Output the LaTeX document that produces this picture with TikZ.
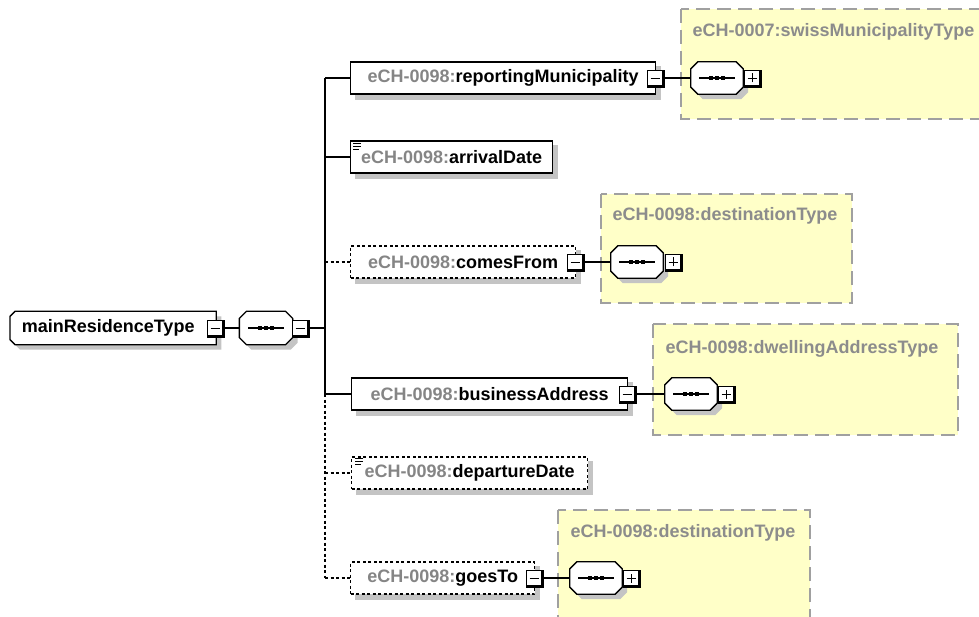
\documentclass[tikz,border=0pt]{standalone}
\usepackage{fontspec}
\setmainfont{Liberation Sans}
\definecolor{pfx}{HTML}{858585}
\definecolor{ttlgray}{HTML}{8C8C8C}
\definecolor{ylw}{HTML}{FFFFC8}
\definecolor{ybd}{HTML}{A0A0A0}
\definecolor{shadowgray}{HTML}{C4C4C4}
\pgfdeclarelayer{bottom}
\pgfdeclarelayer{background}
\pgfsetlayers{bottom,background,main}
\newcommand\octpath[3]{([shift={(7+#2,#3)}]#1.north west) -- ([shift={(-7+#2,#3)}]#1.north east) -- ([shift={(#2,7+#3)}]#1.north east) -- ([shift={(#2,-7+#3)}]#1.south east) -- ([shift={(-7+#2,#3)}]#1.south east) -- ([shift={(7+#2,#3)}]#1.south west) -- ([shift={(#2,-7+#3)}]#1.south west) -- ([shift={(#2,7+#3)}]#1.north west) -- cycle}
\newcommand\rootpath[3]{([shift={(5+#2,#3)}]#1.north west) -- ([shift={(#2,#3)}]#1.north east) -- ([shift={(#2,#3)}]#1.south east) -- ([shift={(5+#2,#3)}]#1.south west) -- ([shift={(#2,-5+#3)}]#1.south west) -- ([shift={(#2,5+#3)}]#1.north west) -- cycle}
\newcommand\seqsym[2]{%
  \node[seqbox] (#1) at (#2) {};
  \fill[shadowgray] \octpath{#1}{5}{5};
  \filldraw[lw,fill=white] \octpath{#1}{0}{0};
  \draw[line width=1.1pt] ([xshift=-18pt]#1.center) -- ([xshift=18pt]#1.center);
  \foreach \d in {-6,0,6}{\fill[black] ([xshift=\d pt]#1.center) +(-2.2,-2.2) rectangle +(2.2,2.2);}
}
\newcommand\xbox[3]{%
  \node[#2] (#1) at (#3) {};
  \draw[line width=1.6pt] ([shift={(1.2,0.4)}]#1.north east) -- ([shift={(1.2,1.2)}]#1.south east) -- ([shift={(0.4,1.2)}]#1.south west);
}
\newcommand\elbox[5]{%
  \node[elem,#2,minimum width=#4] (#1) at (#3) {#5};
  \begin{pgfonlayer}{background}
  \fill[shadowgray] ([shift={(5,5)}]#1.north west) rectangle ([shift={(5,5)}]#1.south east);
  \end{pgfonlayer}
}
\begin{document}
\begin{tikzpicture}[x=1pt,y=-1pt,
  font=\fontsize{18}{21}\selectfont\bfseries,
  lw/.style={line width=1.3pt},
  elem/.style={draw,lw,fill=white,minimum height=32pt,inner sep=0pt,anchor=west},
  opt/.style={dash pattern=on 3pt off 2.5pt},
  seqbox/.style={rectangle,minimum width=52pt,minimum height=32pt,inner sep=0pt},
  expbox/.style={draw,fill=white,minimum size=15pt,inner sep=0pt,line width=1.1pt},
  minusbox/.style={expbox,path picture={\draw[line width=0.9pt] ([xshift=-4.5pt]path picture bounding box.center) -- ([xshift=4.5pt]path picture bounding box.center);}},
  plusbox/.style={expbox,path picture={
      \draw[line width=0.9pt] ([xshift=-4.5pt]path picture bounding box.center) -- ([xshift=4.5pt]path picture bounding box.center);
      \draw[line width=0.9pt] ([yshift=-4.5pt]path picture bounding box.center) -- ([yshift=4.5pt]path picture bounding box.center);}},
  ybox/.style={draw=ybd,fill=ylw,line width=1.5pt,dash pattern=on 14pt off 7pt},
  ttl/.style={text=ttlgray,anchor=base west,inner sep=0pt},
  icon/.style={line width=0.9pt}
]
\useasboundingbox (0,0) rectangle (979,617);
\begin{pgfonlayer}{bottom}
\fill[white] (0,0) rectangle (979,617);
\end{pgfonlayer}
\begin{scope}[line width=1.3pt]
% type boxes
\draw[ybox] (681,9) rectangle (995,119);
\node[ttl] (rmt) at (692,37) {eCH-0007:swissMunicipalityType};
\draw[ybox] (601,194) rectangle (852,303);
\node[ttl] (cft) at (612,221) {eCH-0098:destinationType};
\draw[ybox] (653,324) rectangle (958,435);
\node[ttl] (bat) at (665,353) {eCH-0098:dwellingAddressType};
\draw[ybox] (558,510) rectangle (810,640);
\node[ttl] (gtt) at (570,537) {eCH-0098:destinationType};

% root
\node[rectangle,minimum width=205pt,minimum height=32pt,inner sep=0pt,anchor=west] (main) at (10,328) {};
\fill[shadowgray] \rootpath{main}{5}{5};
\filldraw[lw,fill=white] \rootpath{main}{0}{0};
\node[inner sep=0pt] (mainlbl) at ([xshift=-5pt]main.center) {mainResidenceType};
\xbox{mainx}{minusbox}{215,328}
\seqsym{mseq}{266,328}
\xbox{mseqx}{minusbox}{300,328}
\coordinate (tm) at (325,328);
\draw[lw] (mainx) -- (mseq);
\draw[lw] (mseqx) -- (tm);

% trunk
\coordinate (t1) at (325,78);
\coordinate (t2) at (325,157);
\coordinate (t3) at (325,262);
\coordinate (t4) at (325,394);
\coordinate (t5) at (325,473);
\coordinate (t6) at (325,578);
\draw[lw] (t1) -- (t4);
\draw[lw,opt] (t4) -- (t6);

% reportingMunicipality
\elbox{rm}{}{350,78}{305pt}{\textcolor{pfx}{eCH-0098:}reportingMunicipality}
\xbox{rmx}{minusbox}{655,78}
\seqsym{rms}{717,78}
\xbox{rmp}{plusbox}{752,78}
\draw[lw] (t1) -- (rm);
\draw[lw] (rmx) -- (rms);

% arrivalDate
\elbox{ad}{}{350,157}{202pt}{\textcolor{pfx}{eCH-0098:}arrivalDate}
\draw[lw] (t2) -- (ad);
\draw[icon] ([shift={(3,3)}]ad.north west) -- ++(8,0);
\draw[icon] ([shift={(3,6)}]ad.north west) -- ++(8,0);
\draw[icon] ([shift={(3,9)}]ad.north west) -- ++(6,0);

% comesFrom
\elbox{cf}{opt}{350,262}{225pt}{\textcolor{pfx}{eCH-0098:}comesFrom}
\xbox{cfx}{minusbox}{575,262}
\seqsym{cfs}{637,262}
\xbox{cfp}{plusbox}{673,262}
\draw[lw,opt] (t3) -- (cf);
\draw[lw] (cfx) -- (cfs);

% businessAddress
\elbox{ba}{}{351,394}{276pt}{\textcolor{pfx}{eCH-0098:}businessAddress}
\xbox{bax}{minusbox}{627,394}
\seqsym{bas}{691,394}
\xbox{bap}{plusbox}{726,394}
\draw[lw] (t4) -- (ba);
\draw[lw] (bax) -- (bas);

% departureDate
\elbox{dd}{opt}{351,473}{236pt}{\textcolor{pfx}{eCH-0098:}departureDate}
\draw[lw,opt] (t5) -- (dd);
\draw[icon] ([shift={(4,2)}]dd.north west) -- ++(8,0);
\draw[icon] ([shift={(4,5)}]dd.north west) -- ++(8,0);
\draw[icon] ([shift={(4,8)}]dd.north west) -- ++(6,0);

% goesTo
\elbox{gt}{opt}{350,578}{184pt}{\textcolor{pfx}{eCH-0098:}goesTo}
\xbox{gtx}{minusbox}{534,578}
\seqsym{gts}{596,578}
\xbox{gtp}{plusbox}{631,578}
\draw[lw,opt] (t6) -- (gt);
\draw[lw] (gtx) -- (gts);
\end{scope}
\end{tikzpicture}
\end{document}
